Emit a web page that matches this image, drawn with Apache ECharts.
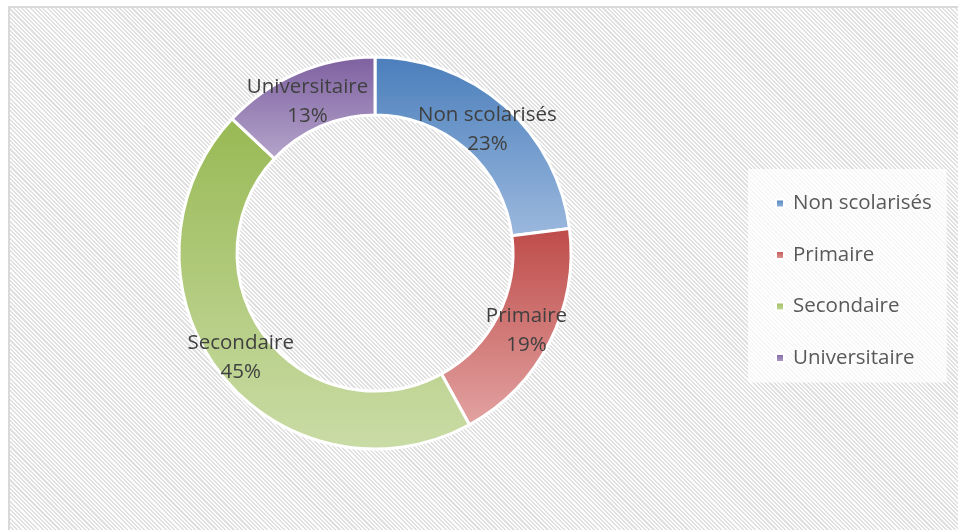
<!DOCTYPE html>
<html>
<head>
<meta charset="utf-8">
<script src="https://cdn.jsdelivr.net/npm/echarts@6/dist/echarts.min.js"></script>
<style>
  body { margin: 0; background: #fff; }
  #wrap { position: relative; width: 958px; height: 530px; overflow: hidden; background: #fff; }
  #plot {
    position: absolute; left: 8px; top: 6px; width: 980px; height: 560px;
    border-top: 2px solid #d9d9d9; border-left: 2px solid #d9d9d9;
    background: repeating-linear-gradient(45deg, #fdfdfd 0 1.5px, #e0e0e0 1.5px 3px);
  }
  #main { position: absolute; left: 0; top: 0; width: 958px; height: 530px; }
</style>
</head>
<body>
<div id="wrap">
  <div id="plot"></div>
  <div id="main"></div>
</div>
<script>
// niveaux d'instruction
var categories = ['Non scolarisés', 'Primaire', 'Secondaire', 'Universitaire']
var values = [23, 19, 45, 13]
// couleurs haut / bas du dégradé de chaque part
var topColors = ['#4a7ebb', '#be4b48', '#98b954', '#7d60a0']
var bottomColors = ['#9cb9de', '#e2a3a2', '#cadca6', '#b5a5cb']
// petit décalage vertical des étiquettes du haut
var labelShift = [4, 0, 0, 5]

var chart = echarts.init(document.getElementById('main'))

var data = categories.map(function (name, i) {
  return {
    name: name,
    value: values[i],
    label: { offset: [0, labelShift[i]] },
    itemStyle: {
      color: new echarts.graphic.LinearGradient(0, 0, 0, 1, [
        { offset: 0, color: topColors[i] },
        { offset: 1, color: bottomColors[i] }
      ])
    }
  }
})

var option = {
  animation: false,
  legend: {
    orient: 'vertical',
    left: 748,
    top: 169,
    padding: [24, 15, 14, 27],
    backgroundColor: 'rgba(255,255,255,0.75)',
    icon: 'rect',
    itemWidth: 8,
    itemHeight: 8,
    itemGap: 30.5,
    textStyle: {
      fontFamily: 'Open Sans',
      fontSize: 20.5,
      color: '#595959',
      lineHeight: 20,
      padding: [0, 0, 0, 4]
    },
    data: categories
  },
  series: [
    {
      type: 'pie',
      center: [375, 253],
      radius: [138, 196],
      startAngle: 90,
      clockwise: true,
      itemStyle: {
        borderColor: '#fff',
        borderWidth: 3
      },
      label: {
        show: true,
        position: 'inside',
        formatter: '{b}\n{d}%',
        fontFamily: 'Open Sans',
        fontSize: 20.5,
        lineHeight: 29,
        color: '#404040'
      },
      labelLine: { show: false },
      emphasis: { disabled: true },
      data: data
    }
  ]
}

chart.setOption(option)
</script>
</body>
</html>
